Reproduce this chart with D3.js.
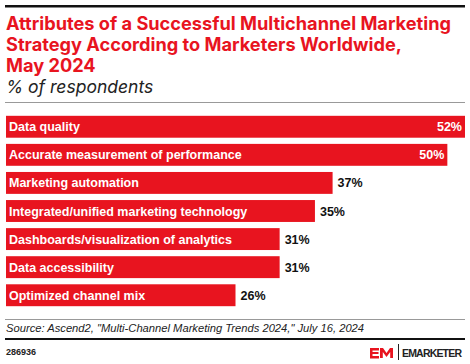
<!DOCTYPE html>
<html><head><meta charset="utf-8">
<script src="https://cdn.jsdelivr.net/npm/d3@7"></script>
<style>body{margin:0;background:#fff}svg{display:block}</style>
</head><body>
<script>
const categories = ["Data quality","Accurate measurement of performance","Marketing automation","Integrated/unified marketing technology","Dashboards/visualization of analytics","Data accessibility","Optimized channel mix"];
const values = [52,50,37,35,31,31,26];
const titleLines = ["Attributes of a Successful Multichannel Marketing","Strategy According to Marketers Worldwide,","May 2024"];
const subtitle = "% of respondents";
const source = "Source: Ascend2, \"Multi-Channel Marketing Trends 2024,\" July 16, 2024";
const chartId = "286936";

const W=470,H=364, RED="#e8141f";
const svg=d3.select("body").append("svg").attr("width",W).attr("height",H);
const font="'Liberation Sans', Arial, sans-serif";
const tfont="Inter, 'Liberation Sans', sans-serif";

svg.append("rect").attr("x",5).attr("y",5).attr("width",460).attr("height",2.5).attr("fill","#111");
svg.selectAll("text.t").data(titleLines).join("text").attr("class","t")
  .attr("x",6).attr("y",(d,i)=>30+i*21).attr("fill",RED)
  .attr("font-family",tfont).attr("font-weight","bold").attr("font-size",18.2).text(d=>d);
svg.append("text").attr("x",6).attr("y",93).attr("font-family",tfont).attr("font-style","italic")
  .attr("font-size",17.5).attr("fill","#222").text(subtitle);
svg.append("rect").attr("x",5).attr("y",102).attr("width",460).attr("height",1).attr("fill","#999");

const x=d3.scaleLinear().domain([0,52]).range([6,465]);
const y=d3.scaleBand().domain(categories).range([113,309]).paddingInner(0.22).paddingOuter(0.1);
const g=svg.append("g");
g.selectAll("rect.bar").data(categories).join("rect").attr("class","bar")
  .attr("x",x(0)).attr("y",d=>y(d)).attr("width",(d,i)=>x(values[i])-x(0)).attr("height",y.bandwidth()).attr("fill",RED);
g.selectAll("text.lab").data(categories).join("text").attr("class","lab")
  .attr("x",x(0)+3).attr("y",d=>y(d)+y.bandwidth()/2+4.5).attr("fill","#fff")
  .attr("font-family",font).attr("font-weight","bold").attr("font-size",12.5).text(d=>d);
g.selectAll("text.val").data(values).join("text").attr("class","val")
  .attr("x",v=>v>=45?x(v)-3:x(v)+5).attr("text-anchor",v=>v>=45?"end":"start")
  .attr("y",(v,i)=>y(categories[i])+y.bandwidth()/2+4.5).attr("fill",v=>v>=45?"#fff":"#111")
  .attr("font-family",font).attr("font-weight","bold").attr("font-size",12.5).text(v=>v+"%");

svg.append("rect").attr("x",5).attr("y",319).attr("width",460).attr("height",1).attr("fill","#999");
svg.append("text").attr("x",6).attr("y",332).attr("font-family",font).attr("font-style","italic")
  .attr("font-size",11.2).attr("fill","#222").text(source);
svg.append("rect").attr("x",5).attr("y",338).attr("width",460).attr("height",2).attr("fill","#111");
svg.append("text").attr("x",6).attr("y",355).attr("font-family",font).attr("font-weight","bold")
  .attr("font-size",9).attr("fill","#222").text(chartId);
// logo
const lg=svg.append("g");
lg.append("path").attr("d","M370,348h9v2.5h-6.5v1.5h6v2h-6v2h6.5v2.5h-9z").attr("fill",RED);
lg.append("path").attr("d","M380,358v-10h3l3.5,5l3.5,-5h3v10h-2.8v-6l-3.7,5l-3.7,-5v6z").attr("fill",RED);
lg.append("rect").attr("x",398).attr("y",344).attr("width",1).attr("height",16).attr("fill","#222");
lg.append("text").attr("x",402).attr("y",357).attr("font-family",font).attr("font-weight","bold")
  .attr("font-size",10.5).attr("textLength",60).attr("fill","#222").text("EMARKETER");
</script>
</body></html>
